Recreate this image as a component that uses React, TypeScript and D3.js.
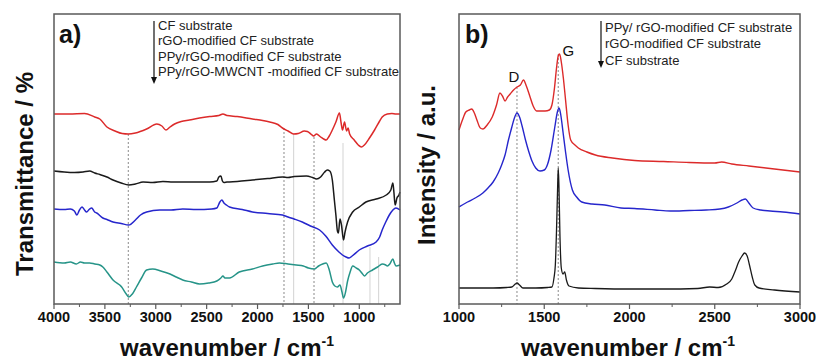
import React from "react";
import * as d3 from "d3";

// ---------- Panel a (FTIR) ----------
const aLegend = [
  "CF substrate",
  "rGO-modified CF substrate",
  "PPy/rGO-modified CF substrate",
  "PPy/rGO-MWCNT -modified CF substrate",
];
const aTicks = [4000, 3500, 3000, 2500, 2000, 1500, 1000];
const aMinorTicks = [3750, 3250, 2750, 2250, 1750, 1250, 750];

const aRed: [number, number][] = [
  [4000, 190], [3850, 190], [3700, 190.5], [3600, 187], [3550, 185], [3480, 177], [3400, 173], [3330, 170.5],
  [3270, 170], [3200, 171], [3090, 175], [2990, 180], [2940, 178], [2900, 174], [2860, 177], [2815, 180],
  [2750, 182.5], [2670, 184], [2570, 186], [2470, 187.5], [2380, 188.5], [2340, 190], [2300, 188.5],
  [2200, 187.5], [2050, 185], [1950, 183.5], [1880, 182], [1800, 179.5], [1755, 176], [1700, 173],
  [1645, 170], [1600, 170.5], [1540, 173], [1510, 172.5], [1470, 169.5], [1450, 168], [1420, 170],
  [1380, 167], [1350, 165], [1325, 164], [1295, 168], [1265, 174], [1230, 182], [1195, 191], [1180, 182],
  [1165, 174], [1145, 182], [1125, 173], [1110, 176], [1095, 170], [1050, 164], [1010, 159], [980, 157],
  [950, 159], [900, 166], [850, 174], [800, 183], [775, 187], [725, 190], [680, 190.5], [640, 190], [600, 190],
];
const aBlack: [number, number][] = [
  [4000, 133], [3900, 132], [3800, 131.5], [3715, 132], [3650, 133], [3600, 131], [3550, 129.5], [3480, 127],
  [3420, 124], [3340, 121], [3265, 119], [3200, 120], [3125, 122], [3030, 121.5], [2930, 122.5], [2830, 122],
  [2735, 122], [2600, 122], [2470, 122], [2400, 123], [2380, 127], [2360, 128], [2345, 123], [2330, 121.5],
  [2300, 122], [2200, 122.5], [2050, 124], [1900, 125.5], [1755, 127], [1700, 126.5], [1640, 127.5],
  [1520, 128], [1460, 126.5], [1420, 125], [1380, 127], [1340, 132], [1315, 134], [1290, 133], [1265, 124],
  [1245, 104], [1230, 89], [1215, 73], [1205, 71], [1190, 85], [1175, 79], [1155, 64], [1140, 72],
  [1115, 82], [1065, 92], [1000, 97], [935, 102], [835, 105], [735, 109], [690, 114], [670, 121],
  [660, 112], [648, 99], [630, 106], [610, 109], [600, 112],
];
const aBlue: [number, number][] = [
  [4000, 95], [3900, 94.5], [3840, 95], [3800, 93], [3775, 89], [3750, 94], [3725, 97], [3700, 94],
  [3680, 92], [3650, 95], [3630, 96], [3600, 92], [3580, 91], [3520, 86], [3480, 84.5], [3420, 82],
  [3340, 80.5], [3265, 79], [3200, 84], [3150, 89], [3090, 92], [2960, 94], [2850, 94], [2735, 95],
  [2600, 94.5], [2450, 95], [2400, 96], [2370, 102], [2350, 104], [2330, 101], [2305, 99], [2275, 97],
  [2150, 94.5], [2050, 92], [1900, 90.5], [1755, 89], [1700, 87], [1640, 85], [1560, 82], [1480, 78],
  [1390, 74], [1330, 68], [1265, 59], [1200, 52], [1165, 49], [1130, 47], [1100, 46], [1070, 48],
  [1000, 54], [920, 58], [835, 62], [800, 67], [775, 74], [740, 82], [705, 89], [670, 94], [640, 96], [600, 94],
];
const aTeal: [number, number][] = [
  [4000, 42], [3900, 41], [3840, 42], [3780, 40], [3740, 42], [3700, 41], [3650, 41], [3600, 40],
  [3550, 39], [3520, 37], [3480, 32], [3420, 24], [3335, 17], [3290, 10], [3265, 7], [3230, 10],
  [3190, 17], [3140, 26], [3090, 34], [3030, 35], [2950, 33], [2860, 30], [2800, 27], [2735, 24],
  [2650, 22], [2570, 20], [2480, 21], [2400, 23], [2360, 26], [2340, 28], [2320, 26], [2275, 26],
  [2180, 32], [2050, 35], [1950, 38], [1850, 40], [1785, 41], [1700, 40], [1620, 39], [1550, 38],
  [1500, 36], [1440, 35], [1400, 38], [1360, 40], [1325, 41], [1295, 34], [1265, 22], [1240, 18],
  [1215, 17], [1190, 19], [1170, 12], [1155, 6], [1135, 12], [1115, 23], [1090, 32], [1065, 38],
  [1030, 36], [1000, 34], [975, 31], [950, 28], [920, 31], [870, 34], [820, 37], [775, 40], [740, 39],
  [725, 38], [700, 40], [670, 45], [655, 41], [640, 38], [600, 39],
];
const aRefWn = [3270, 1740, 1645, 1445, 1160, 895, 810];
const aRefTop = [170, 176, 170, 167, 161, 57, 47];
const aRefDashed = [true, true, false, true, false, false, false];

// ---------- Panel b (Raman) ----------
const bLegend = ["PPy/ rGO-modified CF substrate", "rGO-modified CF substrate", "CF substrate"];
const bTicks = [1000, 1500, 2000, 2500, 3000];
const bMinorTicks = [1250, 1750, 2250, 2750];

const bRed: [number, number][] = [
  [1000, 174], [1020, 184], [1040, 192], [1060, 194], [1075, 195], [1090, 191], [1105, 184], [1125, 176],
  [1140, 175], [1165, 179], [1195, 187], [1220, 199], [1240, 211], [1255, 208], [1270, 203], [1285, 207],
  [1300, 210], [1320, 214], [1340, 217], [1360, 219], [1378, 224], [1395, 218], [1415, 208], [1435, 198],
  [1455, 193], [1480, 193], [1505, 193], [1530, 194], [1545, 199], [1560, 216], [1572, 236], [1582, 248],
  [1590, 250], [1600, 242], [1612, 226], [1625, 204], [1640, 179], [1655, 164], [1680, 159], [1700, 156],
  [1750, 152], [1800, 149], [1900, 146], [2030, 143.5], [2200, 142.5], [2350, 141.5], [2500, 141],
  [2540, 142], [2600, 140], [2700, 138], [2800, 136], [2900, 134], [3000, 132],
];
const bBlue: [number, number][] = [
  [1000, 97], [1050, 102], [1095, 106], [1140, 111], [1170, 116], [1200, 122], [1230, 131], [1250, 139],
  [1270, 149], [1290, 164], [1310, 177], [1325, 186], [1340, 191], [1355, 187], [1370, 178], [1390, 164],
  [1410, 152], [1428, 143], [1450, 136], [1475, 133], [1500, 134], [1520, 140], [1540, 154], [1562, 177],
  [1577, 192], [1587, 196], [1597, 189], [1610, 172], [1625, 152], [1640, 134], [1665, 114], [1690, 107],
  [1720, 102], [1780, 100], [1855, 99], [1950, 96], [2030, 95.5], [2150, 94], [2240, 93], [2350, 93.5],
  [2450, 94], [2530, 95], [2580, 97], [2630, 101], [2660, 104], [2680, 105], [2700, 101], [2725, 96],
  [2770, 94], [2825, 93], [2900, 92], [3000, 90],
];
const bBlack: [number, number][] = [
  [1000, 16], [1100, 16], [1200, 16], [1280, 16.5], [1310, 17], [1330, 20], [1340, 21], [1355, 19],
  [1375, 16], [1450, 16], [1520, 16.5], [1545, 17], [1557, 26], [1565, 39], [1572, 74], [1578, 114],
  [1582, 136], [1586, 119], [1592, 69], [1600, 36], [1610, 30], [1620, 32], [1630, 24], [1645, 18],
  [1700, 16], [1800, 15.5], [2000, 15], [2200, 15], [2400, 15.5], [2470, 17], [2520, 16.5], [2570, 20],
  [2600, 25], [2620, 33], [2640, 42], [2660, 48], [2675, 51], [2690, 48], [2705, 38], [2720, 27],
  [2735, 19], [2760, 16], [2850, 14], [3000, 12],
];
const bRefWn = [1340, 1582];
const bRefTop = [217, 250];
const bPeakLabels = ["D", "G"];

const RED = "#dc2a2a";
const BLACK = "#1a1a1a";
const BLUE = "#2626cc";
const TEAL = "#269488";
const FRAME = "#5a5a5a";
const FONT = "'Liberation Sans', Arial, sans-serif";

const TOP = 14;
const BOTTOM = 304;

function Frame({ x0, x1 }: { x0: number; x1: number }) {
  return <rect x={x0} y={TOP} width={x1 - x0} height={BOTTOM - TOP} fill="none" stroke={FRAME} strokeWidth={1.5} />;
}

export default function App() {
  const ya = d3.scaleLinear().domain([0, 290]).range([BOTTOM, TOP]);
  const xa = d3.scaleLinear().domain([4000, 600]).range([54, 400]);
  const xb = d3.scaleLinear().domain([1000, 3000]).range([459, 800]);

  const lineA = d3.line<[number, number]>().x((d) => xa(d[0])).y((d) => ya(d[1])).curve(d3.curveMonotoneX);
  const lineB = d3.line<[number, number]>().x((d) => xb(d[0])).y((d) => ya(d[1])).curve(d3.curveMonotoneX);

  return (
    <svg width={816} height={360} style={{ position: "absolute", left: 0, top: 0, background: "#fff" }} fontFamily={FONT}>
      <rect width={816} height={360} fill="#fff" />
      {/* ---------- Panel a ---------- */}
      {aRefWn.map((w, i) => (
        <line key={"ar" + i} x1={xa(w)} x2={xa(w)} y1={ya(aRefTop[i])} y2={BOTTOM}
          stroke={aRefDashed[i] ? "#8a8a8a" : "#c8c8c8"} strokeWidth={aRefDashed[i] ? 1 : 0.8}
          strokeDasharray={aRefDashed[i] ? "2,2" : undefined} />
      ))}
      <path d={lineA(aRed) || ""} fill="none" stroke={RED} strokeWidth={1.5} />
      <path d={lineA(aBlack) || ""} fill="none" stroke={BLACK} strokeWidth={1.5} />
      <path d={lineA(aBlue) || ""} fill="none" stroke={BLUE} strokeWidth={1.5} />
      <path d={lineA(aTeal) || ""} fill="none" stroke={TEAL} strokeWidth={1.5} />
      <Frame x0={54} x1={400} />
      {aTicks.map((t) => (
        <g key={"at" + t}>
          <line x1={xa(t)} x2={xa(t)} y1={BOTTOM} y2={BOTTOM + 5} stroke={FRAME} strokeWidth={1.2} />
          <text x={xa(t)} y={322} textAnchor="middle" fontSize={14.5} fontWeight="bold" fill="#111">{t}</text>
        </g>
      ))}
      {aMinorTicks.map((t) => (
        <line key={"am" + t} x1={xa(t)} x2={xa(t)} y1={BOTTOM} y2={BOTTOM + 3} stroke={FRAME} strokeWidth={1} />
      ))}
      <text x={59} y={43} fontSize={25} fontWeight="bold" fill="#111">a)</text>
      <line x1={154} x2={154} y1={21} y2={78} stroke="#111" strokeWidth={1.2} />
      <path d="M151,77 L157,77 L154,84 Z" fill="#111" />
      {aLegend.map((s, i) => (
        <text key={"al" + i} x={158} y={30 + i * 15.4} fontSize={13} fill="#222">{s}</text>
      ))}
      <text x={227} y={356} textAnchor="middle" fontSize={24} fontWeight="bold" fill="#111">
        wavenumber / cm<tspan fontSize={14} dy={-10}>-1</tspan>
      </text>
      <text transform="translate(33,174) rotate(-90)" textAnchor="middle" fontSize={24} fontWeight="bold" fill="#111">
        Transmittance / %
      </text>

      {/* ---------- Panel b ---------- */}
      {bRefWn.map((w, i) => (
        <line key={"br" + i} x1={xb(w)} x2={xb(w)} y1={ya(bRefTop[i])} y2={BOTTOM}
          stroke="#8a8a8a" strokeWidth={1} strokeDasharray="2,2" />
      ))}
      <path d={lineB(bRed) || ""} fill="none" stroke={RED} strokeWidth={1.4} />
      <path d={lineB(bBlue) || ""} fill="none" stroke={BLUE} strokeWidth={1.4} />
      <path d={lineB(bBlack) || ""} fill="none" stroke={BLACK} strokeWidth={1.3} />
      <Frame x0={459} x1={800} />
      {bTicks.map((t) => (
        <g key={"bt" + t}>
          <line x1={xb(t)} x2={xb(t)} y1={BOTTOM} y2={BOTTOM + 5} stroke={FRAME} strokeWidth={1.2} />
          <text x={xb(t)} y={322} textAnchor="middle" fontSize={14.5} fontWeight="bold" fill="#111">{t}</text>
        </g>
      ))}
      {bMinorTicks.map((t) => (
        <line key={"bm" + t} x1={xb(t)} x2={xb(t)} y1={BOTTOM} y2={BOTTOM + 3} stroke={FRAME} strokeWidth={1} />
      ))}
      {bRefWn.map((w, i) => (
        <text key={"bp" + i} x={xb(w) + (i === 0 ? -3 : 10)} y={ya(bRefTop[i]) + (i === 0 ? -5 : 2)}
          textAnchor="middle" fontSize={15} fill="#111">{bPeakLabels[i]}</text>
      ))}
      <text x={465} y={43} fontSize={25} fontWeight="bold" fill="#111">b)</text>
      <line x1={601} x2={601} y1={21} y2={62} stroke="#111" strokeWidth={1.2} />
      <path d="M598,61 L604,61 L601,68 Z" fill="#111" />
      {bLegend.map((s, i) => (
        <text key={"bl" + i} x={605} y={31.5 + i * 16.5} fontSize={13} fill="#222">{s}</text>
      ))}
      <text x={628} y={356} textAnchor="middle" fontSize={24} fontWeight="bold" fill="#111">
        wavenumber / cm<tspan fontSize={14} dy={-10}>-1</tspan>
      </text>
      <text transform="translate(435,165) rotate(-90)" textAnchor="middle" fontSize={24} fontWeight="bold" fill="#111">
        Intensity / a.u.
      </text>
    </svg>
  );
}
